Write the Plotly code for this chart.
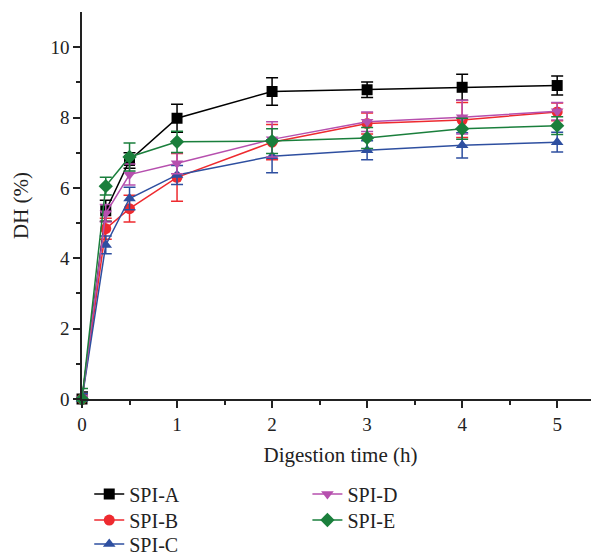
import plotly.graph_objects as go

TIME_H = [0, 0.25, 0.5, 1, 2, 3, 4, 5]

SERIES = ["SPI-A", "SPI-B", "SPI-C", "SPI-D", "SPI-E"]
DH_A = [0, 5.35, 6.78, 7.98, 8.74, 8.79, 8.86, 8.91]
DH_B = [0, 4.84, 5.41, 6.30, 7.30, 7.83, 7.93, 8.16]
DH_C = [0, 4.38, 5.70, 6.37, 6.90, 7.07, 7.21, 7.30]
DH_D = [0, 5.28, 6.38, 6.70, 7.38, 7.88, 8.01, 8.18]
DH_E = [0, 6.05, 6.88, 7.31, 7.33, 7.42, 7.68, 7.77]

ERR_A = [0.20, 0.30, 0.22, 0.40, 0.39, 0.22, 0.37, 0.27]
ERR_B = [0.15, 0.30, 0.38, 0.68, 0.50, 0.30, 0.50, 0.25]
ERR_C = [0.15, 0.25, 0.32, 0.27, 0.47, 0.27, 0.36, 0.28]
ERR_D = [0.10, 0.25, 0.30, 0.30, 0.50, 0.28, 0.48, 0.25]
ERR_E = [0.30, 0.25, 0.40, 0.30, 0.35, 0.30, 0.30, 0.25]

COLORS = ["#000000", "#ee2a2f", "#2e4fa0", "#b64fae", "#1a7f3c"]
SYMBOLS = ["square", "circle", "triangle-up", "triangle-down", "diamond"]
LEGENDS = ["legend", "legend2", "legend3", "legend4", "legend5"]

FONT = "Liberation Serif, Times New Roman, serif"

fig = go.Figure()
for name, y, err, color, symbol, leg in zip(
    SERIES,
    [DH_A, DH_B, DH_C, DH_D, DH_E],
    [ERR_A, ERR_B, ERR_C, ERR_D, ERR_E],
    COLORS,
    SYMBOLS,
    LEGENDS,
):
    fig.add_trace(
        go.Scatter(
            x=TIME_H,
            y=y,
            name=name,
            mode="lines+markers",
            line=dict(color=color, width=1.5),
            marker=dict(symbol=symbol, size=11, color=color),
            error_y=dict(type="data", array=err, color=color, thickness=1.5, width=6),
            cliponaxis=False,
            showlegend=True,
            legend=leg,
        )
    )


def legend_box(x, y):
    return dict(
        x=x, y=y, xanchor="left", yanchor="middle",
        font=dict(size=20), bgcolor="rgba(0,0,0,0)",
    )


# page body adds an 8px offset, so the figure is 8px smaller than the window
fig.update_layout(
    width=591,
    height=548,
    showlegend=True,
    margin=dict(l=74, r=0, t=4, b=157, autoexpand=False),
    paper_bgcolor="white",
    plot_bgcolor="white",
    font=dict(family=FONT, size=19, color="#222222"),
    legend=legend_box(0.014, -0.2455),
    legend2=legend_box(0.014, -0.3127),
    legend3=legend_box(0.014, -0.3747),
    legend4=legend_box(0.436, -0.2455),
    legend5=legend_box(0.436, -0.3127),
)
fig.update_xaxes(
    range=[0, 5.44],
    tickvals=[0, 1, 2, 3, 4, 5],
    ticks="outside",
    ticklen=7,
    tickwidth=1.5,
    tickcolor="#222222",
    minor=dict(tickvals=[0.5, 1.5, 2.5, 3.5, 4.5], ticks="outside", ticklen=4, tickwidth=1.5, tickcolor="#222222"),
    showline=True,
    linecolor="#222222",
    linewidth=1.5,
    showgrid=False,
    zeroline=False,
    automargin=False,
    title=dict(text="Digestion time (h)", font=dict(size=21), standoff=14),
)
fig.update_yaxes(
    range=[0, 11],
    tickvals=[0, 2, 4, 6, 8, 10],
    ticks="outside",
    ticklen=7,
    tickwidth=1.5,
    tickcolor="#222222",
    minor=dict(tickvals=[1, 3, 5, 7, 9], ticks="outside", ticklen=4, tickwidth=1.5, tickcolor="#222222"),
    showline=True,
    linecolor="#222222",
    linewidth=1.5,
    showgrid=False,
    zeroline=False,
    automargin=False,
    title=dict(text="DH (%)", font=dict(size=21), standoff=16),
)

fig.write_html("out.html")
